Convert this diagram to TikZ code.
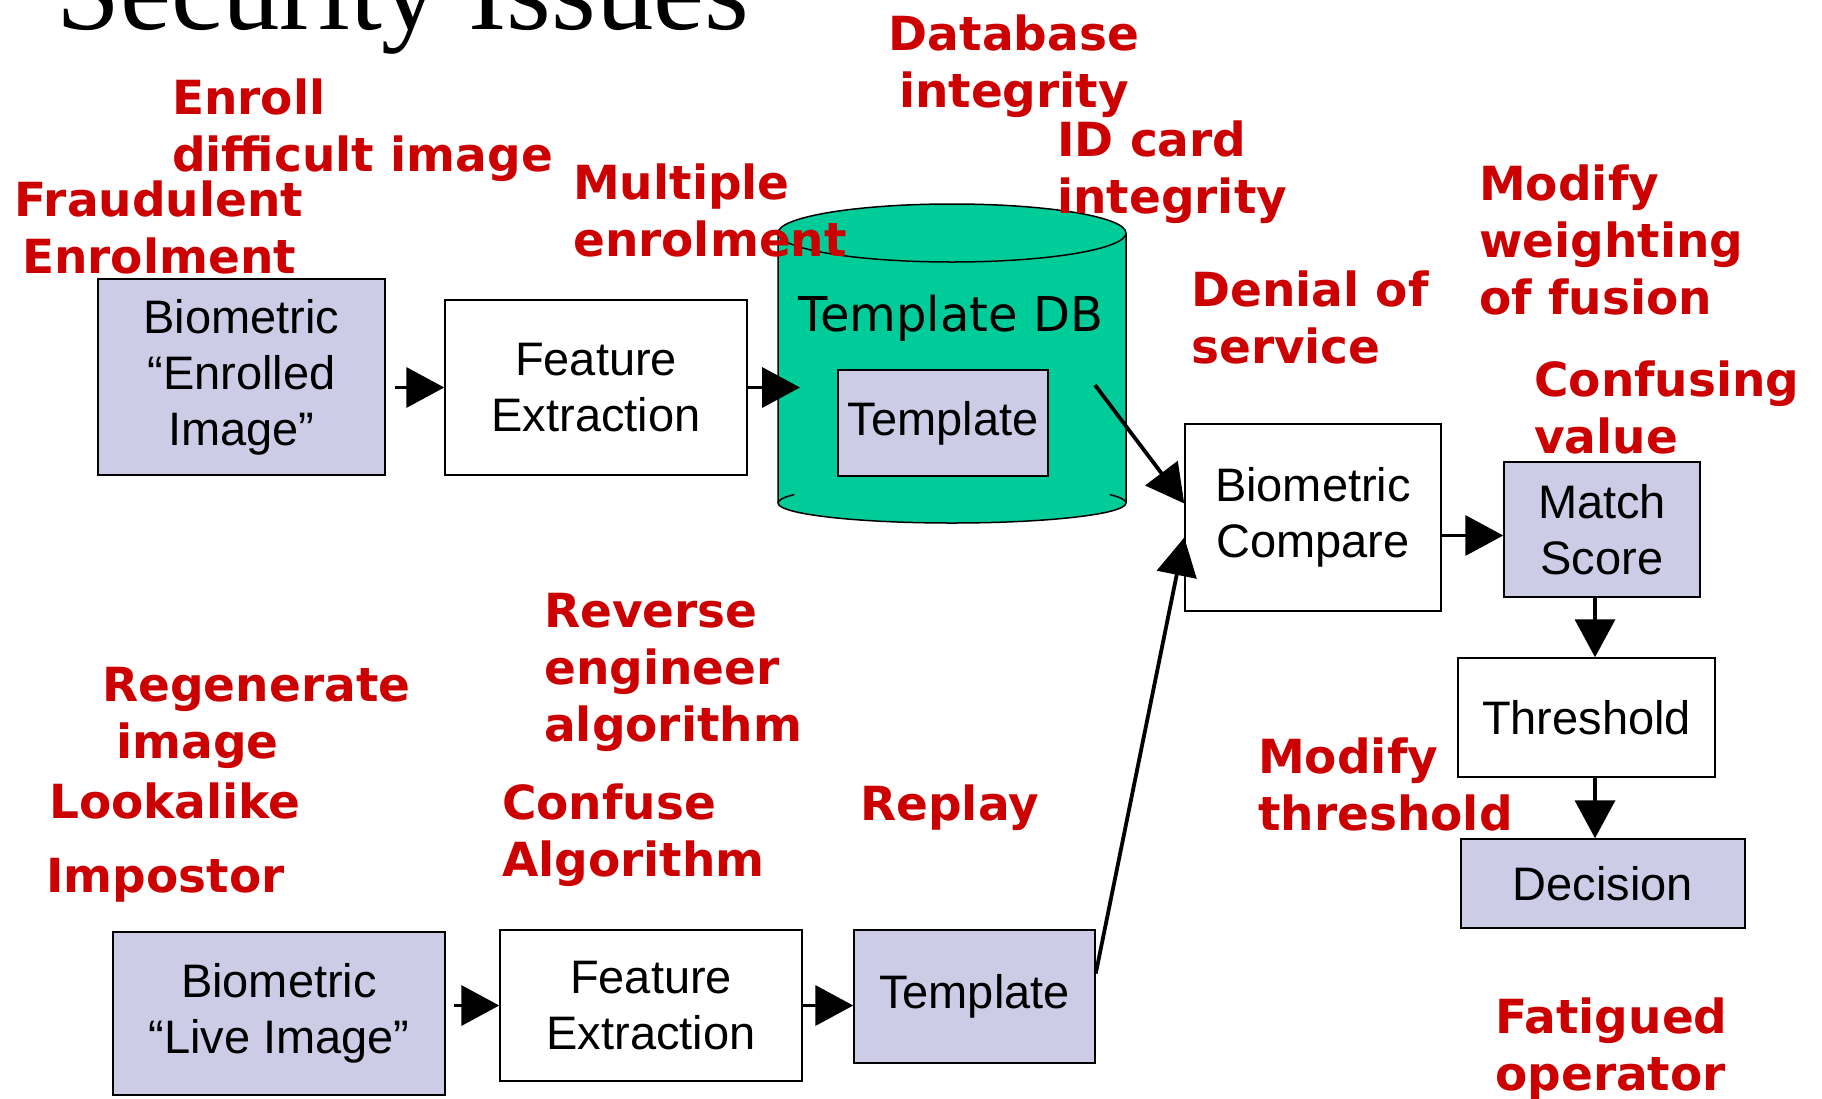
\documentclass[tikz,border=0pt]{standalone}
\usepackage{fontspec}
\setmainfont{Liberation Sans}
\newfontfamily\verdana{DejaVu Sans}
\newfontfamily\timesfont{Liberation Serif}
\usetikzlibrary{arrows.meta}
\usetikzlibrary{positioning}
\usetikzlibrary{calc}
\definecolor{boxblue}{RGB}{204,204,230}
\definecolor{dbgreen}{RGB}{0,204,153}
\definecolor{threatred}{RGB}{204,0,0}

\begin{document}
\begin{tikzpicture}[x=1pt,y=1pt,
  blk/.style={draw,line width=1.5pt,inner sep=0pt,align=center,font=\fontsize{47}{56}\selectfont},
  lav/.style={blk,fill=boxblue},
  flow/.style={-{Triangle[length=38pt,width=40pt]},line width=3.8pt},
  threat/.style={text=threatred,font=\verdana\bfseries\fontsize{47}{57}\selectfont,align=left,anchor=base west,inner sep=0pt}]
\useasboundingbox (0,0) rectangle (1822,-1098);
\clip (0,0) rectangle (1822,-1098);
\node[font=\timesfont\fontsize{115}{120}\selectfont,anchor=base west,inner sep=0pt] (title) at (56,-29) {Security Issues};
% template database
\fill[dbgreen] (778,-233) -- (778,-503) arc[start angle=180,end angle=360,x radius=174,y radius=20] -- (1126,-233) arc[start angle=0,end angle=180,x radius=174,y radius=29] -- cycle;
\draw[line width=1.5pt] (778,-233) -- (778,-503) arc[start angle=180,end angle=360,x radius=174,y radius=20] -- (1126,-233);
\draw[line width=1.5pt] (952,-233) ellipse[x radius=174,y radius=29];
\draw[line width=1.5pt] (778,-503) arc[start angle=180,end angle=155,x radius=174,y radius=20];
\draw[line width=1.5pt] (1126,-503) arc[start angle=0,end angle=25,x radius=174,y radius=20];
\node[font=\verdana\fontsize{48}{56}\selectfont,anchor=base,inner sep=0pt] (dblabel) at (951,-331) {Template DB};
\coordinate (dbin) at (800,-385);
\coordinate (dbout) at (1095,-385);
% boxes
\node[lav,minimum width=287,minimum height=196] (enr) at (241.5,-377) {Biometric\\``Enrolled\\Image''};
\node[blk,minimum width=302,minimum height=175] (fe1) at (596,-387.5) {Feature\\Extraction};
\node[lav,minimum width=210,minimum height=106] (tpl) at (943,-423) {Template};
\node[blk,minimum width=256,minimum height=187] (cmp) at (1313,-517.5) {Biometric\\Compare};
\node[lav,minimum width=196,minimum height=135] (mat) at (1602,-529.5) {Match\\Score};
\node[blk,minimum width=257,minimum height=119] (thr) at (1586.5,-717.5) {Threshold};
\node[lav,minimum width=284,minimum height=89] (dec) at (1603,-883.5) {Decision};
\node[lav,minimum width=332,minimum height=163] (live) at (279,-1013.5) {Biometric\\``Live Image''};
\node[blk,minimum width=302,minimum height=151] (fe2) at (651,-1005.5) {Feature\\Extraction};
\node[lav,minimum width=241,minimum height=133] (tpl2) at (974.5,-996.5) {Template};
% arrows
\draw[flow,shorten <=9pt] (enr.east |- fe1.west) -- (fe1.west);
\draw[flow] (fe1.east) -- (fe1.east -| dbin);
\draw[flow] (dbout) -- ([yshift=14pt]cmp.west);
\draw[flow] ([yshift=23pt]tpl2.east) -- ([yshift=-20pt]cmp.west);
\draw[flow] ([yshift=-6pt]cmp.east |- mat.west) -- ([yshift=-6pt]mat.west);
\draw[flow] ([xshift=-7pt]mat.south) -- ([xshift=-7pt]mat.south |- thr.north);
\draw[flow] ([xshift=-7pt]thr.south -| mat.south) -- ([xshift=-7pt]dec.north -| mat.south);
\draw[flow,shorten <=8pt] (live.east |- fe2.west) -- (fe2.west);
\draw[flow] (fe2.east) -- (fe2.east -| tpl2.west);
% attacks
\node[threat] (enroll) at (172,-171) {Enroll\\difficult image};
\node[threat,align=center,anchor=base] (fraud) at (159,-273) {Fraudulent\\Enrolment};
\node[threat] (multi) at (573,-256) {Multiple\\enrolment};
\node[threat,align=center,anchor=base] (dbint) at (1014,-107) {Database\\integrity};
\node[threat] (idcard) at (1057,-213) {ID card\\integrity};
\node[threat] (weight) at (1479,-314) {Modify\\weighting\\of fusion};
\node[threat] (denial) at (1191,-363) {Denial of\\service};
\node[threat] (confval) at (1534,-453) {Confusing\\value};
\node[threat] (reverse) at (544,-741) {Reverse\\engineer\\algorithm};
\node[threat] (regen) at (102,-758) {Regenerate\\\hspace*{14pt}image};
\node[threat] (look) at (49,-818) {Lookalike};
\node[threat] (impost) at (46,-892) {Impostor};
\node[threat] (confalg) at (502,-876) {Confuse\\Algorithm};
\node[threat] (replay) at (860,-820) {Replay};
\node[threat] (modthr) at (1258,-830) {Modify\\threshold};
\node[threat] (fatigue) at (1495,-1090) {Fatigued\\operator};
\end{tikzpicture}
\end{document}
